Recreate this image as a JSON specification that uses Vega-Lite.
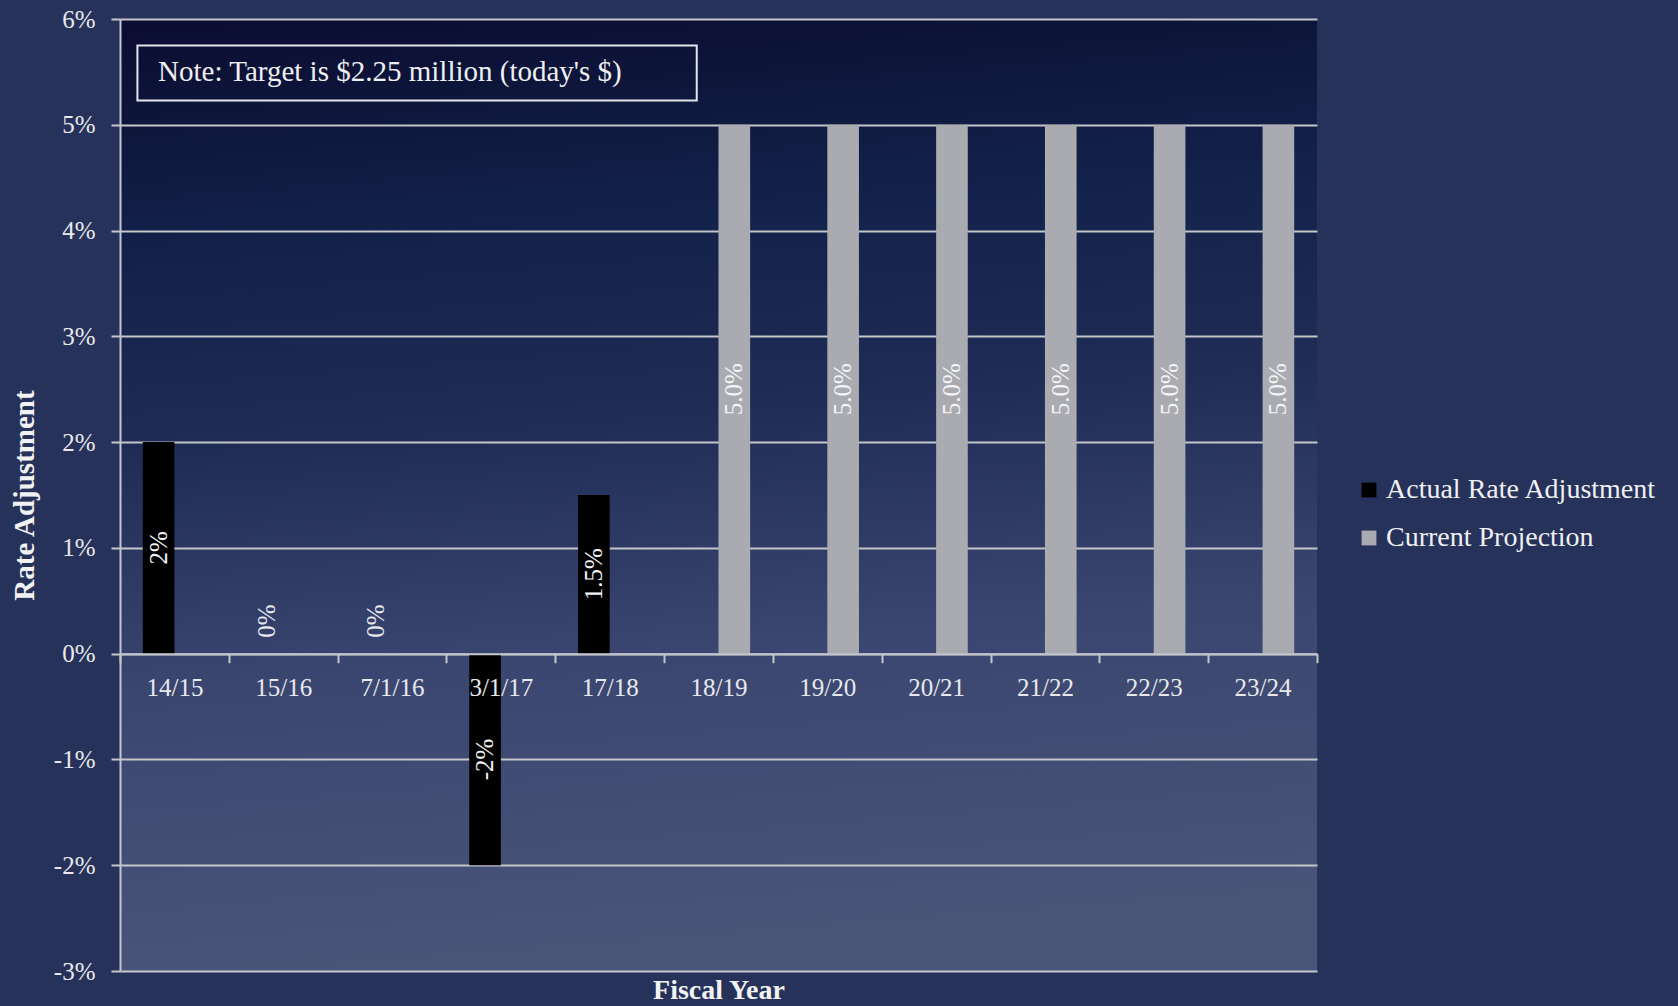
{
  "$schema": "https://vega.github.io/schema/vega-lite/v6.json",
  "width": 1197,
  "height": 952,
  "autosize": {"type": "none"},
  "padding": {"left": 120, "top": 19, "right": 361, "bottom": 35},
  "background": "#27325a",
  "config": {
    "font": "Liberation Serif",
    "view": {
      "stroke": null,
      "fill": {
        "gradient": "linear",
        "x1": 0, "y1": 0, "x2": 0.1, "y2": 1,
        "stops": [
          {"offset": 0, "color": "#0a0c30"},
          {"offset": 0.25, "color": "#13224a"},
          {"offset": 0.45, "color": "#1f2c55"},
          {"offset": 0.7, "color": "#3a4670"},
          {"offset": 1, "color": "#4a5479"}
        ]
      }
    }
  },
  "datasets": {
    "bars": [
      {"year": "14/15", "series": "Actual Rate Adjustment", "value": 2, "label": "2%"},
      {"year": "15/16", "series": "Actual Rate Adjustment", "value": 0, "label": "0%"},
      {"year": "7/1/16", "series": "Actual Rate Adjustment", "value": 0, "label": "0%"},
      {"year": "3/1/17", "series": "Actual Rate Adjustment", "value": -2, "label": "-2%"},
      {"year": "17/18", "series": "Actual Rate Adjustment", "value": 1.5, "label": "1.5%"},
      {"year": "18/19", "series": "Current Projection", "value": 5, "label": "5.0%"},
      {"year": "19/20", "series": "Current Projection", "value": 5, "label": "5.0%"},
      {"year": "20/21", "series": "Current Projection", "value": 5, "label": "5.0%"},
      {"year": "21/22", "series": "Current Projection", "value": 5, "label": "5.0%"},
      {"year": "22/23", "series": "Current Projection", "value": 5, "label": "5.0%"},
      {"year": "23/24", "series": "Current Projection", "value": 5, "label": "5.0%"}
    ],
    "note": [
      {"text": "Note: Target is $2.25 million (today's $)"}
    ]
  },
  "layer": [
    {
      "data": {"name": "bars"},
      "mark": {"type": "bar"},
      "encoding": {
        "x": {
          "field": "year",
          "type": "nominal",
          "sort": null,
          "scale": {
            "domain": ["14/15", "15/16", "7/1/16", "3/1/17", "17/18", "18/19", "19/20", "20/21", "21/22", "22/23", "23/24"],
            "paddingInner": 0,
            "paddingOuter": 0
          },
          "axis": {
            "title": "Fiscal Year",
            "orient": "bottom",
            "offset": -317.3,
            "zindex": 1,
            "labelAngle": 0,
            "labelFont": "Liberation Serif",
            "labelFontSize": 25,
            "labelColor": "#e8e9ee",
            "labelPadding": 13,
            "tickBand": "extent",
            "tickSize": 9,
            "tickColor": "#c4c6cc",
            "tickWidth": 2,
            "domainColor": "#c4c6cc",
            "domainWidth": 2,
            "titleFont": "Liberation Serif",
            "titleFontSize": 28,
            "titleFontWeight": "bold",
            "titleColor": "#f2f2f5",
            "titleY": 337,
            "titleBaseline": "middle"
          }
        },
        "xOffset": {
          "field": "series",
          "type": "nominal",
          "scale": {
            "domain": ["Actual Rate Adjustment", "Current Projection"],
            "paddingInner": 0,
            "paddingOuter": 0.72
          }
        },
        "y": {
          "field": "value",
          "type": "quantitative",
          "scale": {"domain": [-3, 6], "nice": false, "zero": false},
          "axis": {
            "title": "Rate Adjustment",
            "values": [-3, -2, -1, 0, 1, 2, 3, 4, 5, 6],
            "labelExpr": "datum.value + '%'",
            "labelFont": "Liberation Serif",
            "labelFontSize": 25,
            "labelColor": "#e8e9ee",
            "labelPadding": 16,
            "tickSize": 9,
            "tickColor": "#c4c6cc",
            "tickWidth": 2,
            "grid": true,
            "gridColor": "#c4c6cc",
            "gridWidth": 2,
            "domainColor": "#c4c6cc",
            "domainWidth": 2,
            "titleFont": "Liberation Serif",
            "titleFontSize": 29,
            "titleFontWeight": "bold",
            "titleColor": "#f2f2f5",
            "titlePadding": 14
          }
        },
        "color": {
          "field": "series",
          "type": "nominal",
          "scale": {
            "domain": ["Actual Rate Adjustment", "Current Projection"],
            "range": ["#000000", "#a9abb1"]
          },
          "legend": {
            "title": null,
            "orient": "none",
            "legendX": 1235,
            "legendY": 457,
            "symbolType": "square",
            "symbolSize": 220,
            "symbolStrokeWidth": 0,
            "labelFont": "Liberation Serif",
            "labelFontSize": 28,
            "labelLimit": 500,
            "labelColor": "#eef0f4",
            "labelOffset": 3,
            "rowPadding": 20
          }
        }
      }
    },
    {
      "data": {"name": "bars"},
      "transform": [
        {"filter": "datum.value != 0"},
        {"calculate": "datum.value / 2", "as": "mid"}
      ],
      "mark": {"type": "text", "angle": 270, "align": "center", "baseline": "middle", "fontSize": 25, "color": "#f4f4f6", "font": "Liberation Serif"},
      "encoding": {
        "x": {"field": "year", "type": "nominal", "sort": null},
        "xOffset": {"field": "series", "type": "nominal"},
        "y": {"field": "mid", "type": "quantitative"},
        "text": {"field": "label"}
      }
    },
    {
      "data": {"name": "bars"},
      "transform": [
        {"filter": "datum.value == 0"}
      ],
      "mark": {"type": "text", "angle": 270, "align": "left", "baseline": "middle", "dx": 16, "fontSize": 25, "color": "#e8e9ee", "font": "Liberation Serif"},
      "encoding": {
        "x": {"field": "year", "type": "nominal", "sort": null},
        "xOffset": {"field": "series", "type": "nominal"},
        "y": {"field": "value", "type": "quantitative"},
        "text": {"field": "label"}
      }
    },
    {
      "data": {"name": "note"},
      "mark": {"type": "rect", "fill": null, "stroke": "#e4e5ea", "strokeWidth": 2},
      "encoding": {
        "x": {"datum": "14/15", "bandPosition": 0.16},
        "x2": {"datum": "18/19", "bandPosition": 0.3},
        "y": {"datum": 5.75},
        "y2": {"datum": 5.23}
      }
    },
    {
      "data": {"name": "note"},
      "mark": {"type": "text", "align": "left", "baseline": "middle", "fontSize": 29, "color": "#eef0f4", "font": "Liberation Serif"},
      "encoding": {
        "x": {"datum": "14/15", "bandPosition": 0.35},
        "y": {"datum": 5.5},
        "text": {"field": "text"}
      }
    }
  ]
}
